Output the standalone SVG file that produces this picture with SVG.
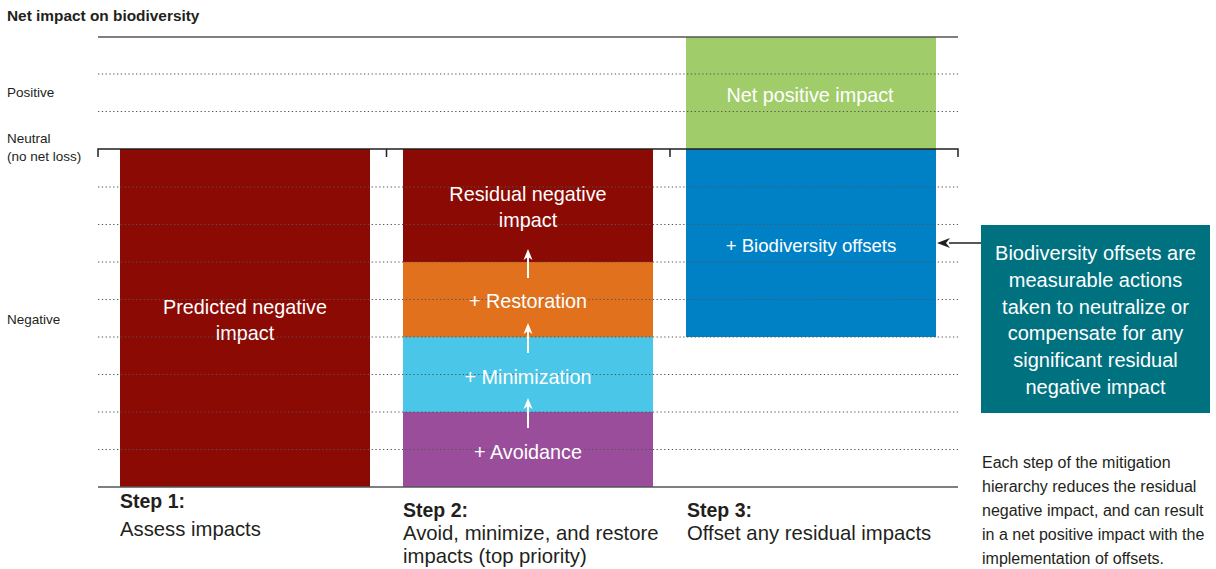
<svg xmlns="http://www.w3.org/2000/svg" width="1216" height="569" viewBox="0 0 1216 569">
<defs>
<style>
text{font-family:"Liberation Sans",Arial,sans-serif;}
.ax{fill:#231f20;font-size:13.5px;}
.ttl{fill:#231f20;font-size:15.4px;font-weight:bold;}
.in{fill:#ffffff;font-size:19.8px;text-anchor:middle;}
.note{fill:#ffffff;font-size:20px;text-anchor:middle;}
.stepb{fill:#231f20;font-size:19.5px;font-weight:bold;}
.step{fill:#231f20;font-size:20.3px;}
.cap{fill:#231f20;font-size:16px;}
.dot{stroke:#555;stroke-width:1.2;stroke-dasharray:1.3 2.5;fill:none;}
.solid{stroke:#555;stroke-width:1.5;fill:none;}
.tick{stroke:#231f20;stroke-width:1.5;fill:none;}
.up{stroke:#fff;stroke-width:2;fill:none;}
.wh{fill:#fff;}
</style>
</defs>
<rect width="1216" height="569" fill="#fff"/>

<g id="axis-labels">
<text class="ttl" x="7" y="21">Net impact on biodiversity</text>
<text class="ax" x="7" y="97">Positive</text>
<text class="ax" x="7" y="143">Neutral</text>
<text class="ax" x="7" y="161">(no net loss)</text>
<text class="ax" x="7" y="324">Negative</text>
</g>

<g id="step1">
<rect x="120" y="149" width="250" height="338" fill="#8b0a03"/>
<text class="in" x="245" y="314">Predicted negative</text>
<text class="in" x="245" y="340">impact</text>
</g>

<g id="step2">
<rect x="403" y="149" width="250" height="113" fill="#8b0a03"/>
<rect x="403" y="262" width="250" height="75" fill="#e2711d"/>
<rect x="403" y="337" width="250" height="75" fill="#4ac6e8"/>
<rect x="403" y="412" width="250" height="75" fill="#9a4d9b"/>
</g>

<g id="step3">
<rect x="686" y="37" width="250" height="112" fill="#a0cd69"/>
<rect x="686" y="149" width="250" height="188" fill="#0081c6"/>
</g>

<g id="grid">
<line class="solid" x1="98" y1="37" x2="958" y2="37"/>
<line class="dot" x1="98" y1="74" x2="958" y2="74"/>
<line class="dot" x1="98" y1="111.5" x2="958" y2="111.5"/>
<line class="dot" x1="98" y1="187" x2="958" y2="187"/>
<line class="dot" x1="98" y1="224.5" x2="958" y2="224.5"/>
<line class="dot" x1="98" y1="262" x2="958" y2="262"/>
<line class="dot" x1="98" y1="299.5" x2="958" y2="299.5"/>
<line class="dot" x1="98" y1="337" x2="958" y2="337"/>
<line class="dot" x1="98" y1="374.5" x2="958" y2="374.5"/>
<line class="dot" x1="98" y1="412" x2="958" y2="412"/>
<line class="dot" x1="98" y1="449.5" x2="958" y2="449.5"/>
<line class="solid" x1="98" y1="487" x2="958" y2="487"/>
<path class="tick" d="M98,157 V149 H958 V157 M386.5,149 V157 M670,149 V157"/>
</g>

<g id="labels">
<text class="in" x="528" y="201">Residual negative</text>
<text class="in" x="528" y="227">impact</text>
<text class="in" x="528" y="308">+ Restoration</text>
<text class="in" x="528" y="384">+ Minimization</text>
<text class="in" x="528" y="459">+ Avoidance</text>
<text class="in" x="810" y="102">Net positive impact</text>
<text class="in" x="811" y="252" style="font-size:18.6px">+ Biodiversity offsets</text>
</g>

<g id="connectors">
<line class="up" x1="528" y1="278" x2="528" y2="256"/>
<path class="wh" d="M528,249 L532.5,260 L528,257 L523.5,260 Z"/>
<line class="up" x1="528" y1="353" x2="528" y2="330"/>
<path class="wh" d="M528,323 L532.5,334 L528,331 L523.5,334 Z"/>
<line class="up" x1="528" y1="428" x2="528" y2="405"/>
<path class="wh" d="M528,398 L532.5,409 L528,406 L523.5,409 Z"/>
<line x1="981" y1="243" x2="949" y2="243" stroke="#231f20" stroke-width="1.5"/>
<path d="M937,243 L950,238 L946,243 L950,248 Z" fill="#231f20"/>
</g>

<g id="note">
<rect x="981" y="225" width="229" height="188" fill="#00717f"/>
<text class="note" x="1095.5" y="260">Biodiversity offsets are</text>
<text class="note" x="1095.5" y="287">measurable actions</text>
<text class="note" x="1095.5" y="314">taken to neutralize or</text>
<text class="note" x="1095.5" y="340">compensate for any</text>
<text class="note" x="1095.5" y="367">significant residual</text>
<text class="note" x="1095.5" y="394">negative impact</text>
</g>

<g id="step-labels">
<text class="stepb" x="120" y="508">Step 1:</text>
<text class="step" x="120" y="536">Assess impacts</text>
<text class="stepb" x="403" y="517">Step 2:</text>
<text class="step" x="403" y="540">Avoid, minimize, and restore</text>
<text class="step" x="403" y="563">impacts (top priority)</text>
<text class="stepb" x="687" y="517">Step 3:</text>
<text class="step" x="687" y="540">Offset any residual impacts</text>
</g>

<g id="caption">
<text class="cap" x="982" y="468">Each step of the mitigation</text>
<text class="cap" x="982" y="492">hierarchy reduces the residual</text>
<text class="cap" x="982" y="516">negative impact, and can result</text>
<text class="cap" x="982" y="540">in a net positive impact with the</text>
<text class="cap" x="982" y="564">implementation of offsets.</text>
</g>
</svg>
